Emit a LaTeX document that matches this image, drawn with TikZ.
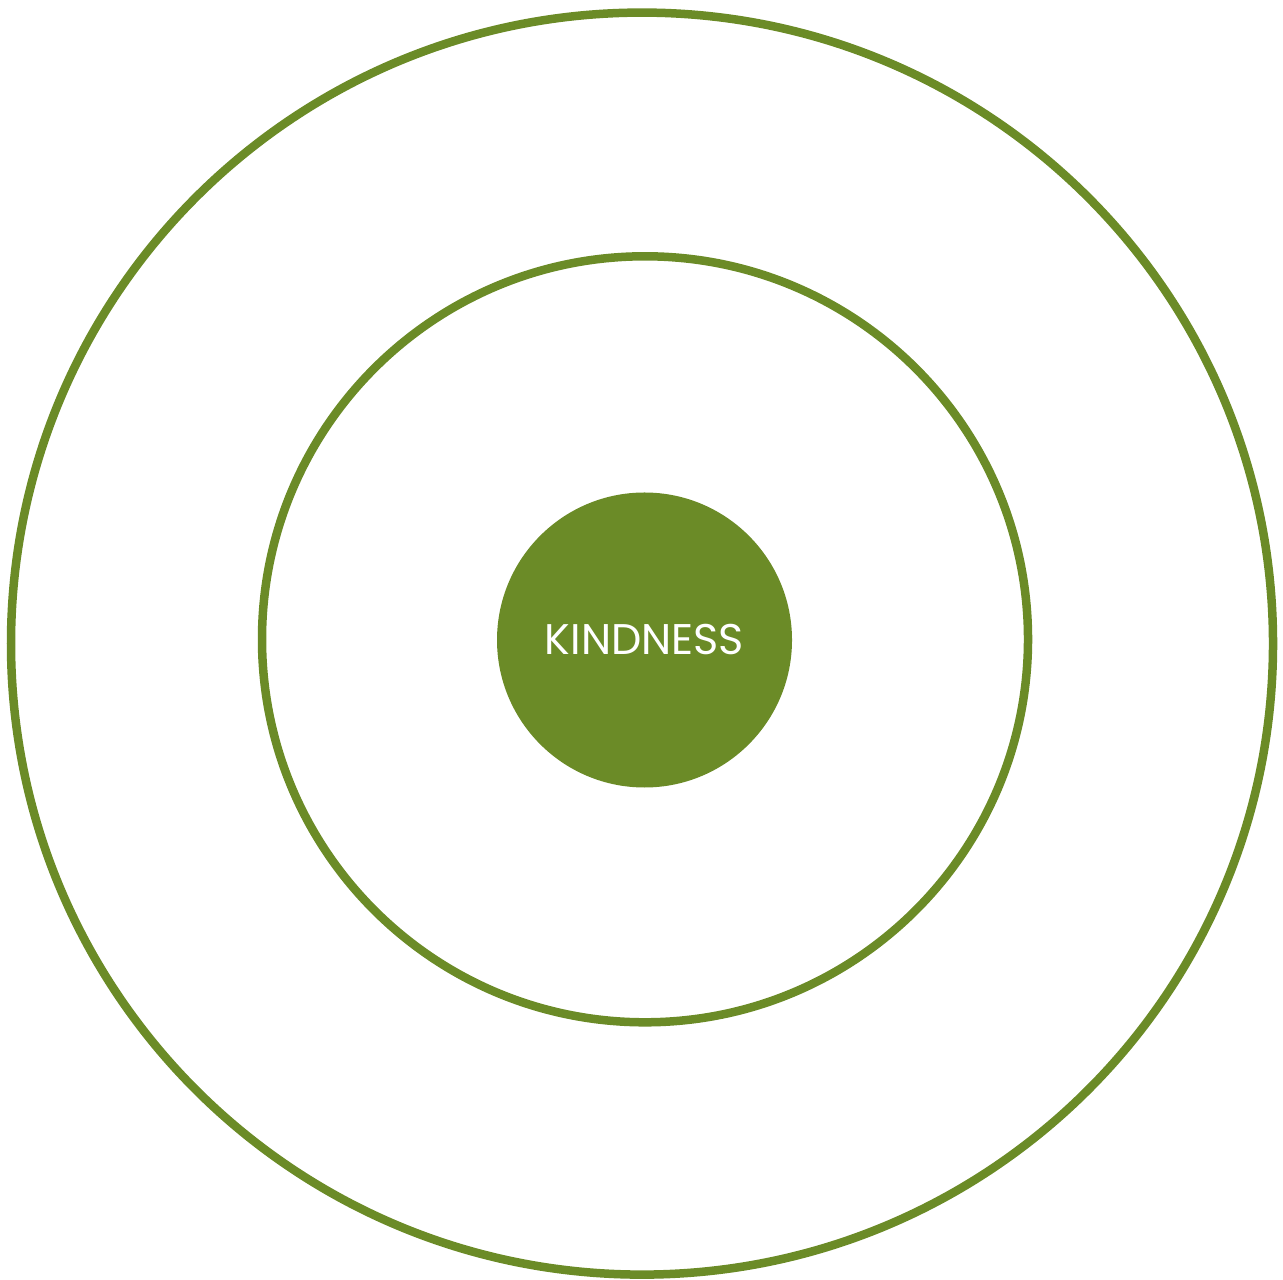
\documentclass[tikz,border=0pt]{standalone}
\usepackage{fontspec}
\setmainfont{Poppins}
\usetikzlibrary{positioning}
\definecolor{olive}{RGB}{107,139,39}

\begin{document}
\begin{tikzpicture}[
        ring/.style={draw=olive,circle,line width=0.085cm,inner sep=0pt},
        core/.style={fill=olive,circle,inner sep=0pt,text=white,font=\fontsize{12.2pt}{14pt}\selectfont}]
        \useasboundingbox (0,0) rectangle (12.83,12.79);
        \node[ring,minimum size=12.62cm] (outer) at (6.42,6.354) {};
        \node[ring,minimum size=7.66cm] (middle) at (6.45,6.397) {};
        \node[core,minimum size=2.95cm] (kindness) at (6.445,6.39) {KINDNESS};
    \end{tikzpicture}
\end{document}
